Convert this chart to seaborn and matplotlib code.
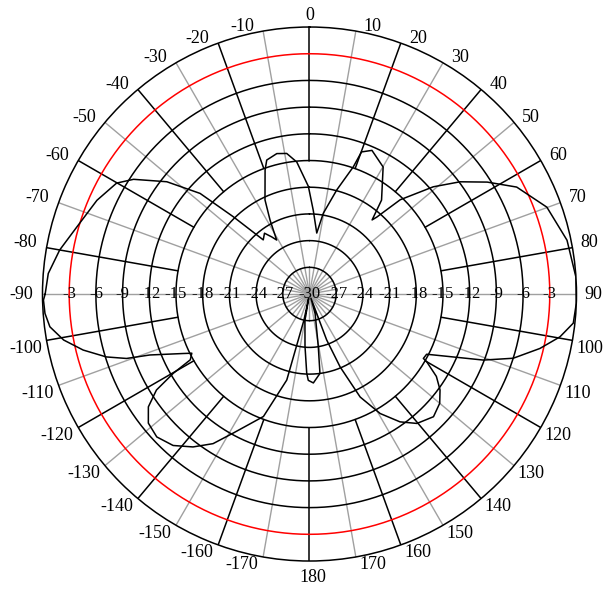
import numpy as np
import matplotlib
matplotlib.use('Agg')
import matplotlib.pyplot as plt
import seaborn as sns

# Antenna pattern (angle clockwise from top, gain in dB)
angle_deg = [-90, -85.5, -80, -73.9, -66.2, -60.1, -56.9, -51.8, -47.4, -44.6,
             -40.5, -36.5, -33.5, -31.3, -28.1, -25.3, -19.7, -17.7, -13.1, -9.2,
             -5.5, -0.6, 2.6, 6.8, 9.7, 14.7, 19, 20.1, 23.5, 30.1,
             37.5, 40.2, 41.2, 43.9, 49.1, 53.3, 57.8, 62.7, 69.9, 78.2,
             86.4, 92, 96.3, 99.7, 103.3, 107.5, 110.8, 114, 117.2, 119.5,
             120, 123, 126.3, 130, 134.7, 140.3, 144.7, 149.4, 153.8, 157.2,
             159.5, 161, 164, 170.5, 172.5, 177.5, 180.8, 182, 184.9, 189.8,
             191, 192, 194.8, 200.6, 208.7, 212.8, 217.3, 222, 226.9, 231.3,
             235, 237.9, 239.8, 241.1, 243.3, 244.8, 249.1, 250.6, 252.8, 256.1,
             259.4, 262.8, 265.8, 268.7, 270]
gain_db = [-0.3, -0.56, -1.5, -2.8, -3.9, -5.0, -6.4, -9.6, -13.3, -17.8,
           -22.0, -21.5, -22.3, -22.9, -20.6, -18.3, -15.2, -14.2, -13.8, -14.0,
           -15.1, -17.9, -20.6, -23.1, -20.8, -17.9, -14.9, -13.0, -12.4, -13.5,
           -16.7, -19.1, -18.5, -15.3, -11.6, -8.9, -6.4, -3.8, -1.6, -0.44,
           0.0, 0.0, -0.18, -1.45, -3.4, -6.0, -9.1, -12.7, -15.2, -15.3,
           -14.8, -13.0, -11.8, -10.9, -10.4, -11.1, -12.4, -14.4, -17.1, -21.1,
           -24.5, -29.5, -27.7, -24.0, -21.0, -20.0, -20.3, -21.1, -24.1, -27.0,
           -29.5, -27.0, -20.0, -15.3, -12.2, -10.0, -8.4, -7.1, -6.5, -6.8,
           -7.9, -9.7, -12.3, -14.7, -15.2, -14.3, -10.8, -8.2, -6.1, -3.8,
           -1.9, -0.6, -0.2, -0.1, -0.3]

ring_levels = [-27, -24, -21, -18, -15, -12, -9, -6, -3]
angle_labels = list(range(-170, 190, 10))

sns.set_style('white')
plt.rcParams['font.family'] = ['Liberation Serif', 'DejaVu Sans']
plt.rcParams['text.color'] = 'black'

fig = plt.figure(figsize=(6.14, 5.95), dpi=100)
ax = fig.add_axes([0.0692, 0.0571, 0.8697, 0.8975], projection='polar')
ax.set_theta_zero_location('N')
ax.set_theta_direction(-1)
ax.grid(False)
ax.set_xticks([])
ax.set_yticks([])

grey = '#a0a0a0'

# radial spokes: grey every odd 10 deg full length, black every 20 deg outside -15 dB
for a in range(0, 360, 10):
    t = np.deg2rad(a)
    if (a // 10) % 2 == 1:
        ax.plot([t, t], [-30, 0], color=grey, lw=1.0, zorder=1)
    else:
        ax.plot([t, t], [-30, -27], color=grey, lw=1.0, zorder=1)
        ax.plot([t, t], [-15, 0], color='black', lw=1.1, zorder=2)

# dB rings
full = np.linspace(0, 2 * np.pi, 721)
for lvl in ring_levels:
    ax.plot(full, np.full_like(full, lvl), color='red' if lvl == -3 else 'black',
            lw=1.1, zorder=2)

# pattern
sns.lineplot(x=np.deg2rad(angle_deg), y=gain_db, sort=False, estimator=None,
             color='black', lw=1.1, ax=ax, zorder=3)

ax.set_ylim(-30, 0)
ax.spines['polar'].set_color('black')
ax.spines['polar'].set_linewidth(1.1)

# angle labels around the outside
for a in angle_labels:
    if a == 0:
        ox, oy = 0, 12
    elif a == 180:
        ox, oy = 3, -16
    else:
        ox = 17 if a > 0 else -21
        if abs(a) < 90:
            oy = 5
        elif abs(a) == 90:
            oy = 0
        else:
            oy = -8
    ax.annotate(str(a), xy=(np.deg2rad(a), 0), xytext=(ox, oy),
                textcoords='offset pixels', ha='center', va='center',
                fontsize=13, annotation_clip=False)

# dB labels along the horizontal axis
for lvl in ring_levels:
    for a in (90, -90):
        ax.text(np.deg2rad(a), lvl, str(lvl), ha='center', va='center',
                fontsize=12, zorder=4)
ax.text(0, -30, '-30', ha='center', va='center', fontsize=12, zorder=4)

fig.savefig('out.png', dpi=100)
